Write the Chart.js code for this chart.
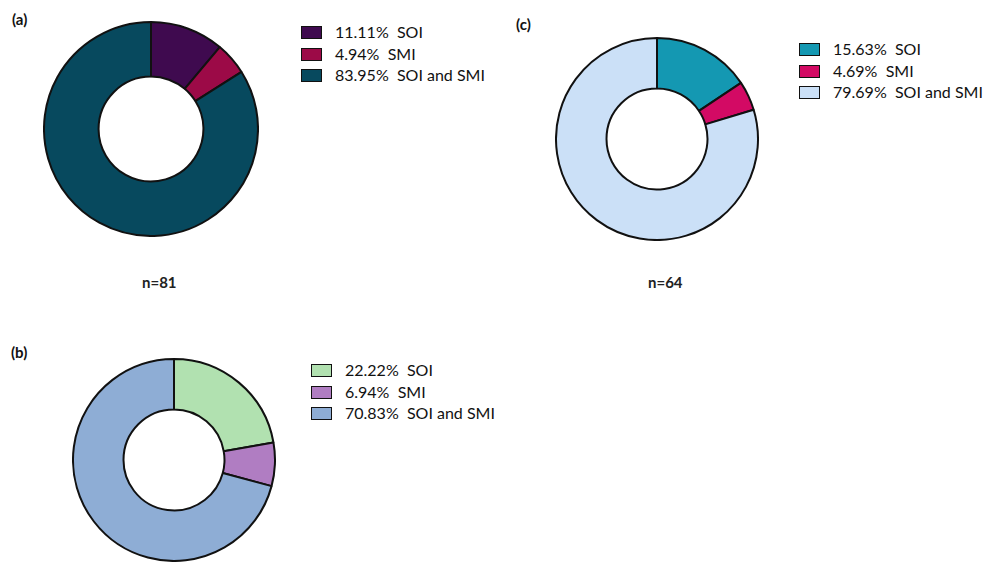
<!DOCTYPE html>
<html>
<head>
<meta charset="utf-8">
<script src="https://cdn.jsdelivr.net/npm/chart.js@4"></script>
<style>
  body { margin: 0; width: 988px; height: 567px; background: #fff; position: relative; overflow: hidden; font-family: Lato, "Open Sans", sans-serif; }
  .box { position: absolute; }
  .tag { position: absolute; font-weight: bold; font-size: 15px; color: #111; }
  .ncount { position: absolute; font-weight: bold; font-size: 15px; color: #222; }
  .legend { position: absolute; font-size: 16px; color: #111; }
  .legend div { height: 21.5px; line-height: 21.5px; white-space: pre; }
  .legend span { display: inline-block; width: 19px; height: 11px; border: 1.5px solid #111; vertical-align: -1px; margin-right: 13px; }
</style>
</head>
<body>
<div class="tag" style="left:12px;top:10px">(a)</div>
<div class="tag" style="left:516px;top:15px">(c)</div>
<div class="tag" style="left:11px;top:343px">(b)</div>

<div class="box" style="left:43px;top:21px;width:216px;height:216px"><canvas id="chart-a"></canvas></div>
<div class="box" style="left:555px;top:37px;width:204px;height:204px"><canvas id="chart-c"></canvas></div>
<div class="box" style="left:72px;top:358px;width:204px;height:204px"><canvas id="chart-b"></canvas></div>

<div class="legend" id="legend-a" style="left:301px;top:21px"></div>
<div class="legend" id="legend-c" style="left:799px;top:38px"></div>
<div class="legend" id="legend-b" style="left:311px;top:359px"></div>

<div class="ncount" id="n-a" style="left:142px;top:273px"></div>
<div class="ncount" id="n-c" style="left:648px;top:273px"></div>

<script>
const categories = ['SOI', 'SMI', 'SOI and SMI'];

const valuesA = [11.11, 4.94, 83.95];
const valuesB = [22.22, 6.94, 70.83];
const valuesC = [15.63, 4.69, 79.69];

const colorsA = ['#3f0a4f', '#9c0a47', '#07495e'];
const colorsB = ['#b1e1b0', '#b07dc2', '#8eadd5'];
const colorsC = ['#1498b2', '#d30a64', '#cbe0f7'];

const countA = 81;
const countC = 64;

function makeDonut(id, values, colors, cutout) {
    new Chart(document.getElementById(id), {
        type: 'doughnut',
        data: {
            labels: categories,
            datasets: [{
                data: values,
                backgroundColor: colors,
                borderColor: '#111',
                borderWidth: 2,
            }]
        },
        options: {
            animation: false,
            responsive: true,
            maintainAspectRatio: false,
            cutout: cutout,
            layout: { padding: 0 },
            plugins: {
                legend: { display: false },
                tooltip: { enabled: false },
            }
        }
    });
}

function makeLegend(id, values, colors) {
    const el = document.getElementById(id);
    values.forEach((v, i) => {
        const row = document.createElement('div');
        const sw = document.createElement('span');
        sw.style.background = colors[i];
        row.appendChild(sw);
        row.appendChild(document.createTextNode(`${v.toFixed(2)}%  ${categories[i]}`));
        el.appendChild(row);
    });
}

makeDonut('chart-a', valuesA, colorsA, '49%');
makeDonut('chart-c', valuesC, colorsC, '50%');
makeDonut('chart-b', valuesB, colorsB, '50%');

makeLegend('legend-a', valuesA, colorsA);
makeLegend('legend-c', valuesC, colorsC);
makeLegend('legend-b', valuesB, colorsB);

document.getElementById('n-a').textContent = `n=${countA}`;
document.getElementById('n-c').textContent = `n=${countC}`;
</script>
</body>
</html>
